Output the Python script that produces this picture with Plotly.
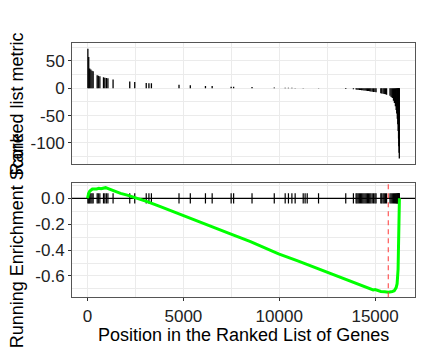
import plotly.graph_objects as go

# ---------------- data ----------------
N_GENES = 16270
peak_pos = 15690

hit_pos = [15, 60, 110, 170, 230, 290, 500, 560, 640, 830, 900, 980, 1060, 1330,
           2200, 2460, 3060, 3200, 3330, 4770, 5360, 6150, 6500, 7490, 7620, 8580,
           9740, 10310, 10480, 10660, 10830, 11250, 11350, 11460, 12050, 13470,
           13870, 14010, 14060, 14120, 14180, 14240, 14300, 14360, 14420, 14480,
           14540, 14600, 14660, 14720, 14780, 14850, 14920, 14990, 15050,
           15300, 15350, 15420, 15480, 15540, 15600,
           15780, 15840, 15900, 15960, 16010, 16060, 16100, 16130, 16160, 16185,
           16205, 16225, 16240, 16252, 16265]
hit_metric = [72, 57, 36, 34, 32, 31, 23.5, 23, 22, 20, 19, 18.5, 18, 16,
              12.5, 11.5, 9.5, 9.3, 9, 6.5, 5.5, 4.2, 4, 2.8, 2.7, 2,
              1.2, 0.9, 0.8, 0.7, 0.6, 0.3, 0.2, 0.1, -0.5, -1.5,
              -2, -2.5, -2.7, -3, -3.2, -3.4, -3.6, -3.8, -4, -4.3,
              -4.6, -5, -5.3, -5.6, -6, -6.3, -6.7, -7, -7.5,
              -9, -9.5, -10, -10.5, -11, -12,
              -14, -16, -18, -23, -27, -33, -40, -46, -56, -66,
              -78, -92, -106, -118, -128.5]

es_pos = [0, 20, 60, 120, 250, 470, 590, 700, 940, 1110, 1370, 1720, 2070, 2590,
          3110, 3800, 4670, 5540, 6410, 7450, 8500, 9965, 11000, 12000, 13000,
          14000, 14500, 14900, 15000, 15100, 15300, 15500, 15700, 15900, 16000,
          16100, 16150, 16200, 16230, 16250, 16270]
es_val = [0, 0.02, 0.04, 0.056, 0.072, 0.072, 0.077, 0.074, 0.082, 0.072, 0.056,
          0.038, 0.025, 0.0, -0.026, -0.065, -0.116, -0.168, -0.215, -0.275,
          -0.335, -0.43, -0.485, -0.543, -0.6, -0.657, -0.685, -0.708, -0.705,
          -0.712, -0.72, -0.722, -0.725, -0.72, -0.715, -0.69, -0.66, -0.55,
          -0.4, -0.22, 0.0]

x_ticks = [0, 5000, 10000, 15000]
x_text = ["0", "5000", "10000", "15000"]
x_minor = [2500, 7500, 12500]
y1_ticks = [-100, -50, 0, 50]
y1_text = ["-100", "-50", "0", "50"]
y1_minor = [-125, -75, -25, 25, 75]
y2_ticks = [-0.6, -0.4, -0.2, 0.0]
y2_text = ["-0.6", "-0.4", "-0.2", "0.0"]
y2_minor = [-0.7, -0.5, -0.3, -0.1, 0.1]
tick_half = 0.04

FONT = "Liberation Sans, Arial, sans-serif"
GRID = "#EBEBEB"
BORDER = "#555555"
TICKSIZE = 17

xr = [-0.05 * N_GENES, 1.05 * N_GENES]

# ---------------- traces ----------------
bx, by = [], []
for p, m in zip(hit_pos, hit_metric):
    bx += [p, p, None]
    by += [0, m, None]

tx, ty = [], []
for p in hit_pos:
    tx += [p, p, None]
    ty += [-tick_half, tick_half, None]

fig = go.Figure()
fig.add_trace(go.Scatter(x=bx, y=by, mode="lines", xaxis="x", yaxis="y",
                         line=dict(color="black", width=1.3), hoverinfo="skip",
                         showlegend=False))
fig.add_trace(go.Scatter(x=xr, y=[0, 0], mode="lines", xaxis="x2", yaxis="y2",
                         line=dict(color="black", width=1.2), hoverinfo="skip",
                         showlegend=False))
fig.add_trace(go.Scatter(x=tx, y=ty, mode="lines", xaxis="x2", yaxis="y2",
                         line=dict(color="black", width=1.2), hoverinfo="skip",
                         showlegend=False))
fig.add_trace(go.Scatter(x=es_pos, y=es_val, mode="lines", xaxis="x2", yaxis="y2",
                         line=dict(color="#00FF00", width=3), showlegend=False))

common_x = dict(range=xr, tickvals=x_ticks, ticktext=x_text, showgrid=True,
                gridcolor=GRID, gridwidth=1,
                zeroline=False, showline=True, linecolor=BORDER, linewidth=1, mirror=True,
                minor=dict(tickvals=x_minor, showgrid=True, gridcolor=GRID, gridwidth=0.6))

fig.update_layout(
    width=423, height=352,
    margin=dict(l=0, r=0, t=0, b=0),
    paper_bgcolor="white", plot_bgcolor="white",
    font=dict(family=FONT, size=TICKSIZE, color="#222222"),
    showlegend=False,
    xaxis=dict(domain=[0.1702, 0.9811], anchor="y", showticklabels=False, ticks="",
               **common_x),
    xaxis2=dict(domain=[0.1702, 0.9811], anchor="y2", ticks="outside", ticklen=3,
                tickcolor="#333333", tickfont=dict(size=TICKSIZE, color="#222222"),
                **common_x),
    yaxis=dict(domain=[0.534, 0.877], anchor="x", range=[-138.6, 82.1],
               tickvals=y1_ticks, ticktext=y1_text, ticks="outside", ticklen=3,
               tickcolor="#333333", tickfont=dict(size=TICKSIZE, color="#222222"),
               showgrid=True, gridcolor=GRID, gridwidth=1,
               zeroline=False, showline=True, linecolor=BORDER, linewidth=1, mirror=True,
               minor=dict(tickvals=y1_minor, showgrid=True, gridcolor=GRID, gridwidth=0.6)),
    yaxis2=dict(domain=[0.1554, 0.4793], anchor="x2", range=[-0.765, 0.116],
                tickvals=y2_ticks, ticktext=y2_text, ticks="outside", ticklen=3,
                tickcolor="#333333", tickfont=dict(size=TICKSIZE, color="#222222"),
                showgrid=True, gridcolor=GRID, gridwidth=1,
                zeroline=False, showline=True, linecolor=BORDER, linewidth=1, mirror=True,
                minor=dict(tickvals=y2_minor, showgrid=True, gridcolor=GRID, gridwidth=0.6)),
)

# peak line in the lower panel
fig.add_shape(type="line", xref="x2", yref="y2 domain", x0=peak_pos, x1=peak_pos,
              y0=0, y1=1, line=dict(color="rgba(255,60,60,0.85)", width=1.2,
                                    dash="5px,4px"))

# axis titles
fig.add_annotation(text="Position in the Ranked List of Genes", xref="paper", yref="paper",
                   x=0.5757, y=0.048, xanchor="center", yanchor="middle", showarrow=False,
                   font=dict(size=18, color="black", family=FONT))
fig.add_annotation(text="Ranked list metric", xref="paper", yref="paper",
                   x=0.04, y=0.7054, textangle=-90, xanchor="center", yanchor="middle",
                   showarrow=False, font=dict(size=18, color="black", family=FONT))
fig.add_annotation(text="Running Enrichment Score", xref="paper", yref="paper",
                   x=0.04, y=0.317, textangle=-90, xanchor="center", yanchor="middle",
                   showarrow=False, font=dict(size=18, color="black", family=FONT))

fig.write_html("out.html")
